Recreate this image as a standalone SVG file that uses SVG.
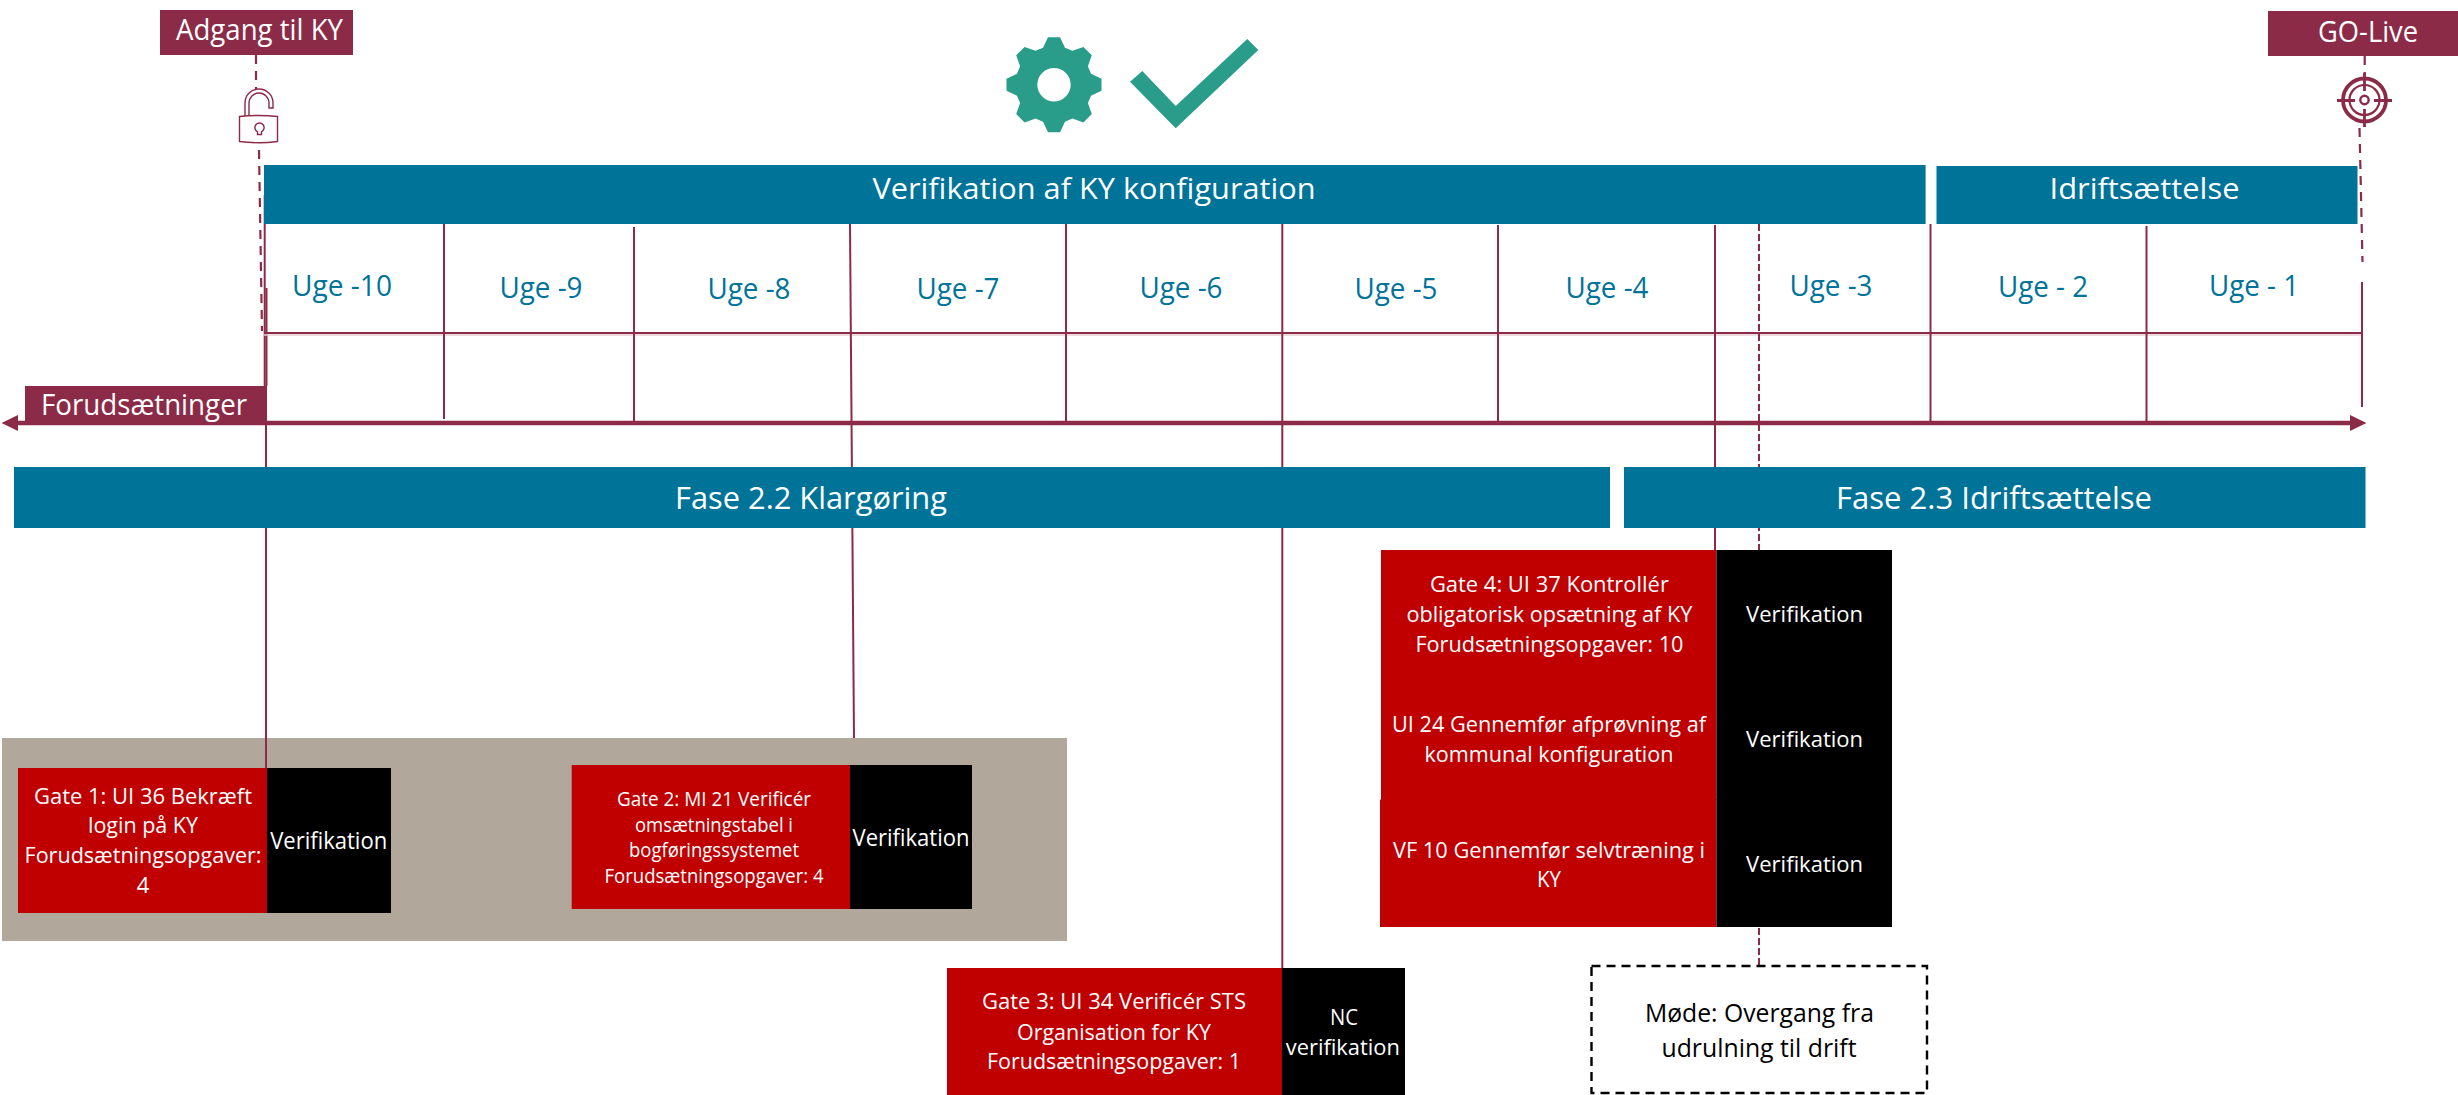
<svg xmlns="http://www.w3.org/2000/svg" width="2458" height="1095" viewBox="0 0 2458 1095">
<style>
text{font-family:"Open Sans","Noto Sans","Liberation Sans",sans-serif;text-anchor:middle}
.w{fill:#fff}.k{fill:#000}.t{fill:#007399}
.maroon{fill:#8b2b48}.teal{fill:#007399}.red{fill:#c00000}.blk{fill:#000}
.f28{font-size:29px}.f30{font-size:31px}.f24{font-size:25px}.f22{font-size:23px}.f21{font-size:22px}.f19{font-size:20px}
.ln{stroke:#8b2b48;stroke-width:2;fill:none}
.dash{stroke:#8b2b48;stroke-width:2.2;fill:none;stroke-dasharray:9 7}
.dash2{stroke:#8b2b48;stroke-width:2;fill:none;stroke-dasharray:7 3}
.ic{stroke:#8b2b48;stroke-width:1.4;fill:#fff}
</style>
<defs>
<marker id="ah" markerUnits="userSpaceOnUse" markerWidth="17" markerHeight="16" refX="0" refY="8" orient="auto-start-reverse"><path d="M0,0L16.5,8L0,16Z" fill="#8b2b48"/></marker>
</defs>
<rect width="2458" height="1095" fill="#fff"/>
<g id="container-gray"><rect x="2" y="738" width="1065" height="203" fill="#b1a79a"/></g>
<g id="connectors">
<line class="dash" x1="256" y1="55" x2="256" y2="90"/>
<line class="dash" x1="259" y1="150" x2="262" y2="331"/>
<line class="ln" x1="264.7" y1="195" x2="264.7" y2="386"/>
<line class="ln" x1="266.5" y1="288" x2="266.5" y2="386"/>
<line class="ln" x1="266" y1="423" x2="266" y2="768"/>
<line class="ln" x1="264" y1="333" x2="2362" y2="333"/>
<line x1="264" y1="335" x2="2362" y2="335" stroke="#e7cfd6" stroke-width="1.5"/>
<line class="ln" x1="444" y1="224" x2="444" y2="419"/>
<line class="ln" x1="634" y1="227" x2="634" y2="423"/>
<line class="ln" x1="850" y1="224" x2="854" y2="738"/>
<line class="ln" x1="1066" y1="224" x2="1066" y2="423"/>
<line class="ln" x1="1282.3" y1="224" x2="1282.3" y2="968"/>
<line class="ln" x1="1498" y1="225" x2="1498" y2="423"/>
<line class="ln" x1="1715" y1="225" x2="1715" y2="550"/>
<line class="dash2" x1="1759" y1="224" x2="1759" y2="550"/>
<line class="dash2" x1="1759" y1="928" x2="1759" y2="966"/>
<line class="ln" x1="1930.5" y1="224" x2="1930.5" y2="423"/>
<line class="ln" x1="2146.5" y1="226" x2="2146.5" y2="423"/>
<line class="ln" x1="2362" y1="282" x2="2362" y2="407"/>
<line class="dash" x1="2364.7" y1="56" x2="2364.7" y2="75"/>
<line class="dash" x1="2359.5" y1="128" x2="2362.5" y2="262"/>
<line x1="18" y1="423" x2="2350" y2="423" stroke="#8b2b48" stroke-width="4.4" marker-start="url(#ah)" marker-end="url(#ah)"/>
</g>
<g id="milestone-adgang"><rect class="maroon" x="160" y="10" width="193" height="45"/><text class="w f28" x="259.5" y="40" textLength="167" lengthAdjust="spacingAndGlyphs">Adgang til KY</text></g>
<g id="icon-lock">
<path class="ic" d="M245,116V103A14,14 0 0 1 273,103V108H269V103A10,10 0 0 0 249,103V116"/>
<path class="ic" d="M239.5,116.5Q259,114.5 277.5,116.5V141.5Q259,144 239.5,141.5Z"/>
<path class="ic" d="M257.5,134.5V131.8A4.6,4.6 0 1 1 261.5,131.8V134.5Z"/>
</g>
<g id="milestone-golive"><rect class="maroon" x="2268" y="11" width="190" height="45"/><text class="w f28" x="2368" y="41.5" textLength="100" lengthAdjust="spacingAndGlyphs">GO-Live</text></g>
<g id="icon-target" fill="none" stroke="#8b2b48">
<circle cx="2364.5" cy="100" r="21.5" stroke-width="3.8"/>
<circle cx="2364.5" cy="100" r="15" stroke-width="2.2"/>
<circle cx="2364.5" cy="100" r="4.2" stroke-width="2.4"/>
<path stroke-width="2.8" d="M2337,100.5H2355M2374,100.5H2392M2364.5,73V91M2364.5,109V127"/>
</g>
<g id="icon-gear"><path fill="#2a9d8a" fill-rule="evenodd" transform="translate(1054 84.7)" d="M-11,-37L-6,-47.5L6,-47.5L11,-37L18.4,-33.9L29.4,-37.8L37.8,-29.4L33.9,-18.4L37,-11L47.5,-6L47.5,6L37,11L33.9,18.4L37.8,29.4L29.4,37.8L18.4,33.9L11,37L6,47.5L-6,47.5L-11,37L-18.4,33.9L-29.4,37.8L-37.8,29.4L-33.9,18.4L-37,11L-47.5,6L-47.5,-6L-37,-11L-33.9,-18.4L-37.8,-29.4L-29.4,-37.8L-18.4,-33.9ZM0,-16.7A16.7,16.7 0 1 0 0,16.7A16.7,16.7 0 1 0 0,-16.7Z"/></g>
<g id="icon-check"><path fill="#2a9d8a" d="M1142.3,71L1130,81.7L1175.7,128.3L1258.3,50L1247.3,39L1175.7,106Z"/></g>
<g id="bar-verifikation"><rect class="teal" x="264" y="165" width="1661.6" height="59"/><text class="w f28" x="1094" y="199" textLength="443" lengthAdjust="spacingAndGlyphs">Verifikation af KY konfiguration</text></g>
<g id="bar-idrift"><rect class="teal" x="1936.5" y="166" width="421" height="58"/><text class="w f28" x="2144.5" y="199" textLength="190" lengthAdjust="spacingAndGlyphs">Idriftsættelse</text></g>
<g id="weeks">
<text class="t f28" x="342" y="296" textLength="100" lengthAdjust="spacingAndGlyphs">Uge -10</text>
<text class="t f28" x="541" y="298" textLength="83" lengthAdjust="spacingAndGlyphs">Uge -9</text>
<text class="t f28" x="749" y="299" textLength="83" lengthAdjust="spacingAndGlyphs">Uge -8</text>
<text class="t f28" x="958" y="299" textLength="83" lengthAdjust="spacingAndGlyphs">Uge -7</text>
<text class="t f28" x="1181" y="298" textLength="83" lengthAdjust="spacingAndGlyphs">Uge -6</text>
<text class="t f28" x="1396" y="299" textLength="83" lengthAdjust="spacingAndGlyphs">Uge -5</text>
<text class="t f28" x="1607" y="297.5" textLength="83" lengthAdjust="spacingAndGlyphs">Uge -4</text>
<text class="t f28" x="1831" y="296" textLength="83" lengthAdjust="spacingAndGlyphs">Uge -3</text>
<text class="t f28" x="2043" y="297" textLength="90" lengthAdjust="spacingAndGlyphs">Uge - 2</text>
<text class="t f28" x="2254" y="296" textLength="90" lengthAdjust="spacingAndGlyphs">Uge - 1</text>
</g>
<g id="forudsaetninger"><rect class="maroon" x="25" y="386" width="242" height="37"/><text class="w f28" x="144" y="415" textLength="206" lengthAdjust="spacingAndGlyphs">Forudsætninger</text></g>
<g id="fase-22"><rect class="teal" x="14" y="467" width="1596" height="61"/><text class="w f30" x="811" y="508.5" textLength="272" lengthAdjust="spacingAndGlyphs">Fase 2.2 Klargøring</text></g>
<g id="fase-23"><rect class="teal" x="1624" y="467" width="741.5" height="61"/><text class="w f30" x="1994" y="508.5" textLength="316" lengthAdjust="spacingAndGlyphs">Fase 2.3 Idriftsættelse</text></g>
<g id="gate-1">
<rect class="red" x="18" y="768" width="249" height="145"/><rect class="blk" x="267" y="768" width="124" height="145"/>
<text class="w f21" x="143" y="804" textLength="218" lengthAdjust="spacingAndGlyphs">Gate 1: UI 36 Bekræft</text>
<text class="w f21" x="143" y="833" textLength="110" lengthAdjust="spacingAndGlyphs">login på KY</text>
<text class="w f21" x="143" y="863" textLength="237" lengthAdjust="spacingAndGlyphs">Forudsætningsopgaver:</text>
<text class="w f21" x="143" y="893">4</text>
<text class="w f22" x="328.7" y="848.7" textLength="117" lengthAdjust="spacingAndGlyphs">Verifikation</text>
</g>
<g id="gate-2">
<rect class="red" x="571.7" y="765" width="278.3" height="144"/><rect class="blk" x="850" y="765" width="122" height="144"/>
<text class="w f19" x="714" y="806" textLength="194" lengthAdjust="spacingAndGlyphs">Gate 2: MI 21 Verificér</text>
<text class="w f19" x="714" y="832" textLength="158" lengthAdjust="spacingAndGlyphs">omsætningstabel i</text>
<text class="w f19" x="714" y="857" textLength="170" lengthAdjust="spacingAndGlyphs">bogføringssystemet</text>
<text class="w f19" x="714" y="883" textLength="219" lengthAdjust="spacingAndGlyphs">Forudsætningsopgaver: 4</text>
<text class="w f22" x="911" y="845.7" textLength="117" lengthAdjust="spacingAndGlyphs">Verifikation</text>
</g>
<g id="gate-3">
<rect class="red" x="947" y="968" width="335" height="127"/><rect class="blk" x="1282" y="968" width="123" height="127"/>
<text class="w f21" x="1114" y="1009" textLength="264" lengthAdjust="spacingAndGlyphs">Gate 3: UI 34 Verificér STS</text>
<text class="w f21" x="1114" y="1039.5" textLength="194" lengthAdjust="spacingAndGlyphs">Organisation for KY</text>
<text class="w f21" x="1114" y="1069" textLength="254" lengthAdjust="spacingAndGlyphs">Forudsætningsopgaver: 1</text>
<text class="w f21" x="1344" y="1025" textLength="28" lengthAdjust="spacingAndGlyphs">NC</text>
<text class="w f21" x="1342.8" y="1055" textLength="114" lengthAdjust="spacingAndGlyphs">verifikation</text>
</g>
<g id="gate-4">
<rect class="red" x="1381" y="550" width="335.5" height="126"/><rect class="blk" x="1716.5" y="550" width="175.5" height="126"/>
<text class="w f21" x="1549.4" y="592" textLength="239" lengthAdjust="spacingAndGlyphs">Gate 4: UI 37 Kontrollér</text>
<text class="w f21" x="1549.4" y="622" textLength="286" lengthAdjust="spacingAndGlyphs">obligatorisk opsætning af KY</text>
<text class="w f21" x="1549.4" y="652" textLength="268" lengthAdjust="spacingAndGlyphs">Forudsætningsopgaver: 10</text>
<text class="w f21" x="1804.6" y="622" textLength="117" lengthAdjust="spacingAndGlyphs">Verifikation</text>
</g>
<g id="ui-24">
<rect class="red" x="1381" y="676" width="335.5" height="124"/><rect class="blk" x="1716.5" y="676" width="175.5" height="124"/>
<text class="w f21" x="1549" y="732" textLength="314" lengthAdjust="spacingAndGlyphs">UI 24 Gennemfør afprøvning af</text>
<text class="w f21" x="1549" y="762" textLength="249" lengthAdjust="spacingAndGlyphs">kommunal konfiguration</text>
<text class="w f21" x="1804.6" y="747" textLength="117" lengthAdjust="spacingAndGlyphs">Verifikation</text>
</g>
<g id="vf-10">
<rect class="red" x="1380" y="799.5" width="336.5" height="127.5"/><rect class="blk" x="1716.5" y="799.5" width="175.5" height="127.5"/>
<text class="w f21" x="1549" y="858" textLength="312" lengthAdjust="spacingAndGlyphs">VF 10 Gennemfør selvtræning i</text>
<text class="w f21" x="1549" y="887" textLength="24" lengthAdjust="spacingAndGlyphs">KY</text>
<text class="w f21" x="1804.6" y="871.5" textLength="117" lengthAdjust="spacingAndGlyphs">Verifikation</text>
</g>
<g id="moede">
<rect x="1591.5" y="966" width="335.5" height="127" fill="#fff" stroke="#000" stroke-width="2.4" stroke-dasharray="9 6"/>
<text class="k f24" x="1759.4" y="1021.5" textLength="229" lengthAdjust="spacingAndGlyphs">Møde: Overgang fra</text>
<text class="k f24" x="1759" y="1057" textLength="195" lengthAdjust="spacingAndGlyphs">udrulning til drift</text>
</g>
</svg>
